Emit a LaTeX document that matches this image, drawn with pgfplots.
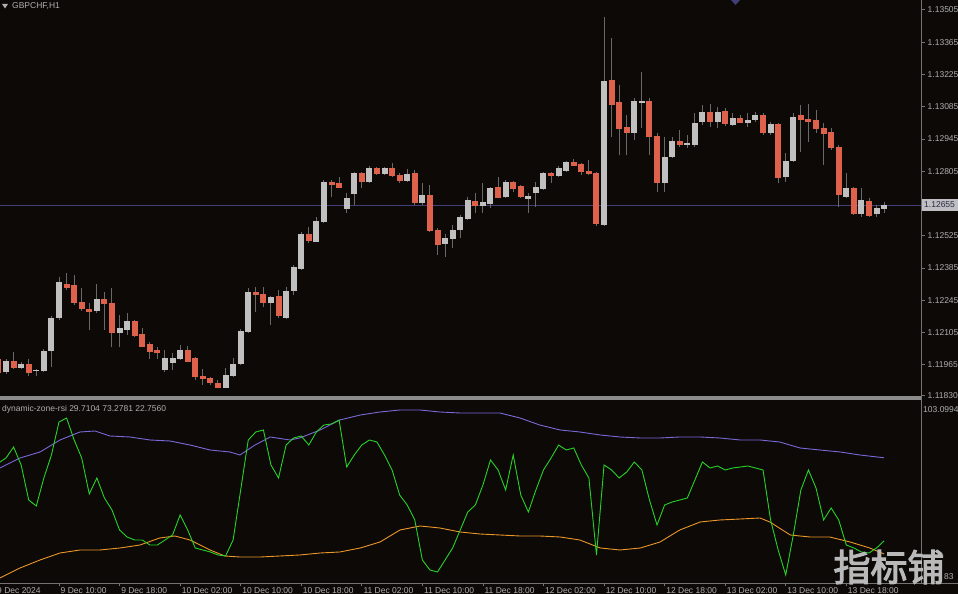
\documentclass[border=0pt]{standalone}
\usepackage{fontspec}
\setmainfont{Liberation Sans}
\newfontfamily\cjk[AutoFakeBold=3]{Noto Sans CJK SC}
\usepackage{pgfplots}
\usepackage{pgfplotstable}
\pgfplotsset{compat=1.18}
\definecolor{bg}{RGB}{12,9,7}
\definecolor{axgrey}{RGB}{115,115,115}
\definecolor{sepgrey}{RGB}{140,140,140}
\definecolor{txt}{RGB}{175,175,175}
\definecolor{bullc}{RGB}{192,192,192}
\definecolor{bearc}{RGB}{221,97,75}
\definecolor{wick}{RGB}{105,105,105}
\definecolor{bid}{RGB}{66,62,120}
\definecolor{rsig}{RGB}{40,210,40}
\definecolor{upb}{RGB}{120,105,215}
\definecolor{lowb}{RGB}{235,150,40}
\definecolor{bidbox}{RGB}{190,190,195}
\definecolor{bidtxt}{RGB}{40,40,60}
\definecolor{wm}{RGB}{185,185,185}

\pgfplotstableread{
i o h l c
3 1.11934 1.11990 1.11925 1.11981
5 1.11955 1.11977 1.11947 1.11968
7 1.11938 1.11947 1.11916 1.11942
8 1.11938 1.12033 1.11934 1.12025
9 1.12025 1.12177 1.11955 1.12168
10 1.12168 1.12346 1.12159 1.12320
15 1.12198 1.12315 1.12190 1.12250
18 1.12107 1.12181 1.12042 1.12124
19 1.12120 1.12190 1.12094 1.12151
24 1.11942 1.12029 1.11934 1.11990
25 1.11973 1.12016 1.11942 1.11994
26 1.11990 1.12051 1.11986 1.12029
32 1.11868 1.11951 1.11864 1.11920
33 1.11920 1.11994 1.11912 1.11968
34 1.11973 1.12120 1.11964 1.12111
35 1.12111 1.12298 1.12103 1.12281
38 1.12237 1.12263 1.12137 1.12259
40 1.12172 1.12302 1.12164 1.12285
41 1.12285 1.12398 1.12268 1.12389
42 1.12385 1.12541 1.12376 1.12532
44 1.12502 1.12606 1.12498 1.12589
45 1.12585 1.12767 1.12580 1.12758
48 1.12645 1.12710 1.12624 1.12689
49 1.12710 1.12802 1.12658 1.12797
51 1.12762 1.12828 1.12754 1.12819
53 1.12797 1.12823 1.12788 1.12819
56 1.12767 1.12815 1.12758 1.12793
58 1.12671 1.12754 1.12658 1.12702
61 1.12489 1.12532 1.12433 1.12515
62 1.12515 1.12571 1.12472 1.12550
63 1.12550 1.12615 1.12515 1.12606
64 1.12602 1.12693 1.12593 1.12680
66 1.12658 1.12754 1.12624 1.12671
67 1.12667 1.12736 1.12645 1.12732
69 1.12697 1.12767 1.12689 1.12758
72 1.12689 1.12710 1.12624 1.12697
73 1.12715 1.12758 1.12650 1.12736
74 1.12732 1.12802 1.12723 1.12797
76 1.12788 1.12828 1.12780 1.12819
77 1.12810 1.12849 1.12802 1.12845
82 1.12576 1.13474 1.12567 1.13196
86 1.12975 1.13123 1.12940 1.13110
87 1.13105 1.13236 1.12992 1.13110
90 1.12758 1.12953 1.12715 1.12867
91 1.12867 1.12953 1.12862 1.12936
93 1.12923 1.12962 1.12906 1.12927
94 1.12923 1.13058 1.12910 1.13014
95 1.13019 1.13092 1.13005 1.13062
97 1.13019 1.13084 1.12992 1.13062
99 1.13010 1.13058 1.13001 1.13036
101 1.13019 1.13058 1.12997 1.13027
102 1.13027 1.13062 1.13019 1.13045
104 1.12975 1.13019 1.12962 1.13010
106 1.12780 1.12884 1.12758 1.12849
107 1.12849 1.13058 1.12845 1.13036
114 1.12697 1.12797 1.12689 1.12732
116 1.12624 1.12732 1.12606 1.12680
118 1.12619 1.12658 1.12606 1.12641
119 1.12641 1.12671 1.12624 1.12655
}\bulltab

\pgfplotstableread{
i o h l c
2 1.11990 1.11999 1.11925 1.11934
4 1.11981 1.12020 1.11947 1.11955
6 1.11968 1.11990 1.11916 1.11934
11 1.12315 1.12363 1.12289 1.12302
12 1.12307 1.12354 1.12224 1.12233
13 1.12233 1.12298 1.12198 1.12207
14 1.12207 1.12233 1.12116 1.12194
16 1.12250 1.12281 1.12116 1.12229
17 1.12229 1.12298 1.12042 1.12103
20 1.12151 1.12159 1.12085 1.12094
21 1.12098 1.12124 1.12042 1.12046
22 1.12055 1.12064 1.11990 1.12025
23 1.12029 1.12042 1.11990 1.12020
27 1.12029 1.12046 1.11977 1.11981
28 1.11994 1.11999 1.11899 1.11916
29 1.11916 1.11947 1.11877 1.11907
30 1.11907 1.11912 1.11877 1.11886
31 1.11886 1.11899 1.11864 1.11868
36 1.12281 1.12302 1.12194 1.12268
37 1.12272 1.12302 1.12216 1.12237
39 1.12259 1.12289 1.12168 1.12177
43 1.12532 1.12563 1.12493 1.12502
46 1.12758 1.12767 1.12693 1.12749
47 1.12754 1.12780 1.12732 1.12736
50 1.12797 1.12802 1.12732 1.12762
52 1.12819 1.12823 1.12788 1.12797
54 1.12819 1.12841 1.12780 1.12788
55 1.12788 1.12797 1.12754 1.12767
57 1.12797 1.12810 1.12658 1.12667
59 1.12702 1.12745 1.12541 1.12550
60 1.12550 1.12558 1.12441 1.12489
65 1.12676 1.12710 1.12624 1.12658
68 1.12736 1.12780 1.12689 1.12693
70 1.12758 1.12762 1.12715 1.12732
71 1.12741 1.12745 1.12689 1.12697
75 1.12797 1.12802 1.12754 1.12788
78 1.12845 1.12858 1.12828 1.12832
79 1.12836 1.12841 1.12788 1.12802
80 1.12806 1.12854 1.12788 1.12797
81 1.12797 1.12802 1.12567 1.12576
83 1.13201 1.13383 1.12953 1.13097
84 1.13105 1.13179 1.12875 1.12992
85 1.12997 1.13049 1.12875 1.12975
88 1.13110 1.13123 1.12875 1.12958
89 1.12958 1.12971 1.12715 1.12758
92 1.12936 1.12984 1.12910 1.12923
96 1.13062 1.13097 1.12997 1.13019
98 1.13062 1.13079 1.13001 1.13010
100 1.13036 1.13049 1.13014 1.13019
103 1.13049 1.13058 1.12962 1.12975
105 1.13010 1.13014 1.12754 1.12780
108 1.13045 1.13092 1.12888 1.13027
109 1.13032 1.13097 1.12932 1.13023
110 1.13027 1.13071 1.12971 1.12992
111 1.12992 1.13014 1.12832 1.12971
112 1.12975 1.12992 1.12897 1.12906
113 1.12906 1.12919 1.12650 1.12702
115 1.12732 1.12736 1.12615 1.12624
117 1.12676 1.12689 1.12606 1.12615
}\beartab

\pgfplotstableread{
i v
2 70.55
3 73.18
4 78.95
5 69.50
6 51.13
7 47.98
8 62.68
9 74.75
10 92.08
11 94.18
12 82.63
13 73.18
14 54.28
15 62.68
16 52.18
17 45.88
18 35.38
19 31.70
20 30.13
21 30.13
22 27.50
23 27.50
24 30.13
25 32.75
26 43.25
27 35.38
28 25.93
29 24.88
30 23.83
31 22.25
32 21.73
33 30.13
34 56.38
35 82.63
36 86.83
37 87.88
38 69.50
39 62.68
40 80.00
41 83.68
42 84.73
43 80.00
44 86.83
45 90.50
46 91.03
47 93.13
48 68.45
49 74.75
50 80.00
51 82.63
52 81.58
53 74.75
54 66.88
55 53.75
56 48.50
57 40.63
58 19.63
59 14.38
60 13.33
61 19.63
62 25.93
63 35.38
64 44.83
65 48.50
66 59.00
67 72.13
68 66.88
69 56.38
70 74.75
71 53.75
72 44.83
73 56.38
74 66.88
75 73.18
76 80.00
77 77.38
78 78.43
79 69.50
80 62.68
81 22.25
82 69.50
83 66.88
84 62.68
85 65.83
86 71.08
87 66.88
88 51.13
89 38.00
90 48.50
91 50.08
92 51.13
93 52.18
94 61.63
95 71.08
96 67.93
97 68.98
98 66.88
99 67.93
100 68.45
101 68.98
102 67.93
103 66.88
104 40.63
105 24.88
106 11.75
107 32.75
108 56.38
109 66.88
110 57.43
111 40.63
112 46.93
113 40.63
114 27.50
115 25.93
116 23.83
117 23.30
118 25.93
119 29.71
}\rsitab

\pgfplotstableread{
i v
2.2 67.93
4.85 73.18
7.49 76.33
10.13 82.63
12.77 86.83
14.76 87.35
16.74 84.73
19.38 84.20
22.02 82.63
24.66 82.10
27.3 80.00
29.95 77.38
32.59 76.33
33.9 74.75
35.9 80.00
37.9 84.20
40.5 82.63
41.8 83.68
44.5 87.88
47.1 93.13
49.8 95.75
52.4 97.33
55.05 98.38
57.7 98.38
60.3 97.33
63 96.80
65.6 96.80
68.25 96.80
70.9 94.18
73.5 90.50
76.2 87.88
78.8 86.83
81.5 85.25
84.1 84.20
86.8 83.68
89.4 83.68
92 84.20
94.7 84.20
97.3 83.68
100 82.63
102.6 82.63
105.2 81.58
107.9 78.43
110.5 77.38
113.2 76.33
115.8 74.75
119 73.28
}\uptab

\pgfplotstableread{
i v
2.2 10.18
4.85 15.43
7.49 19.63
10.13 23.30
12.77 24.88
15.4 24.88
18.05 25.93
20.7 27.50
23.3 31.18
25.3 32.23
27.3 30.13
29.95 24.88
31.9 21.73
33.9 21.20
36.6 21.20
39.2 21.73
41.8 22.25
44.5 23.30
47.1 23.83
49.8 25.93
52.4 29.08
55.05 35.38
57.7 37.48
60.3 36.43
63 34.33
65.6 33.28
68.25 32.75
70.9 32.23
73.5 32.23
76.2 31.70
78.8 30.13
81.5 25.93
84.1 24.88
86.8 25.93
89.4 29.08
92 35.38
94.7 39.58
97.3 40.63
100 41.15
102.6 41.68
103.9 39.58
106.6 32.75
109.2 31.70
111.8 31.70
114.5 29.08
117.1 25.93
119 22.76
}\lowtab

\begin{document}
\begin{tikzpicture}[x=1pt,y=1pt]
\clip (0,0) rectangle (958,594);
\fill[bg] (0,0) rectangle (958,594);
\pgfplotsset{
  mt/.style={scale only axis, width=921pt, xmin=2.206, xmax=123.87,
    axis line style={draw=none}, tick style={draw=axgrey, line width=0.8pt},
    major tick length=3.5pt, tick align=outside,
    ticklabel style={font=\fontsize{8.5}{10}\selectfont, text=txt}},
  candle/.style={draw=none, no markers, error bars/.cd, y dir=both, y explicit, error mark=none}
}
% price pane
\begin{axis}[mt, at={(0pt,594pt)}, anchor=north west, height=399pt,
  ymin=1.11816, ymax=1.13548, xtick=\empty,
  ytick={1.13505,1.13365,1.13225,1.13085,1.12945,1.12805,1.12525,1.12385,1.12245,1.12105,1.11965,1.11830},
  yticklabels={1.13505,1.13365,1.13225,1.13085,1.12945,1.12805,1.12525,1.12385,1.12245,1.12105,1.11965,1.11830},
  ytick pos=right, yticklabel pos=right,
  yticklabel style={anchor=west, inner sep=0pt, xshift=3pt}]
\addplot[bid, line width=0.8pt] coordinates {(2.206,1.12655) (123.87,1.12655)};
\addplot[candle, error bar style={draw=wick, line width=1pt}]
  table[x=i, y expr={(\thisrow{h}+\thisrow{l})/2}, y error expr={(\thisrow{h}-\thisrow{l})/2}] {\bulltab};
\addplot[candle, error bar style={draw=wick, line width=1pt}]
  table[x=i, y expr={(\thisrow{h}+\thisrow{l})/2}, y error expr={(\thisrow{h}-\thisrow{l})/2}] {\beartab};
\addplot[candle, error bar style={draw=bullc, line width=6pt}]
  table[x=i, y expr={(\thisrow{o}+\thisrow{c})/2}, y error expr={abs(\thisrow{c}-\thisrow{o})/2+0.00002}] {\bulltab};
\addplot[candle, error bar style={draw=bearc, line width=6pt}]
  table[x=i, y expr={(\thisrow{o}+\thisrow{c})/2}, y error expr={abs(\thisrow{c}-\thisrow{o})/2+0.00002}] {\beartab};
\end{axis}
% indicator pane
\begin{axis}[mt, at={(0pt,193pt)}, anchor=north west, height=182pt,
  ymin=7.55, ymax=103.1, ytick=\empty,
  xtick={10,18,...,114},
  xticklabels={9 Dec 10:00,9 Dec 18:00,10 Dec 02:00,10 Dec 10:00,10 Dec 18:00,11 Dec 02:00,11 Dec 10:00,11 Dec 18:00,12 Dec 02:00,12 Dec 10:00,12 Dec 18:00,13 Dec 02:00,13 Dec 10:00,13 Dec 18:00},
  xtick pos=bottom,
  xticklabel style={anchor=north west, inner sep=0pt, xshift=1.5pt, yshift=-1pt}]
\addplot[upb, line width=0.9pt] table[x=i, y=v] {\uptab};
\addplot[lowb, line width=0.9pt] table[x=i, y=v] {\lowtab};
\addplot[rsig, line width=0.9pt] table[x=i, y=v] {\rsitab};
\end{axis}
% frame
\fill[sepgrey] (0,194) rectangle (921,197.5);
\draw[axgrey, line width=1pt] (921.5,594) -- (921.5,11);
\draw[axgrey, line width=1pt] (0,10.5) -- (958,10.5);
% texts
\fill[txt] (2,590) -- (8,590) -- (5,585.5) -- cycle;
\node[anchor=west, inner sep=0pt, text=txt, font=\fontsize{8.5}{10}\selectfont] at (12,587.5) {GBPCHF,H1};
\fill[bid] (731,594) -- (740,594) -- (735.5,589) -- cycle;
\node[anchor=west, inner sep=0pt, text=txt, font=\fontsize{8.5}{10}\selectfont] at (2,185) {dynamic-zone-rsi 29.7104 73.2781 22.7560};
\node[anchor=west, inner sep=0pt, text=txt, font=\fontsize{8.5}{10}\selectfont] at (923,184) {103.0994};
\fill[bidbox] (922,383) rectangle (958,395);
\node[anchor=west, inner sep=0pt, text=bidtxt, font=\fontsize{8.5}{10}\selectfont] at (924,389) {1.12655};
\node[anchor=north west, inner sep=0pt, text=txt, font=\fontsize{8.5}{10}\selectfont] at (-3,6.5) {9 Dec 2024};
\node[anchor=west, inner sep=0pt, text=txt, font=\fontsize{8.5}{10}\selectfont] at (944,17) {83};
\node[inner sep=0pt, text=wm, font=\cjk\bfseries\fontsize{37}{37}\selectfont] at (889,27) {指标铺};
\end{tikzpicture}
\end{document}
